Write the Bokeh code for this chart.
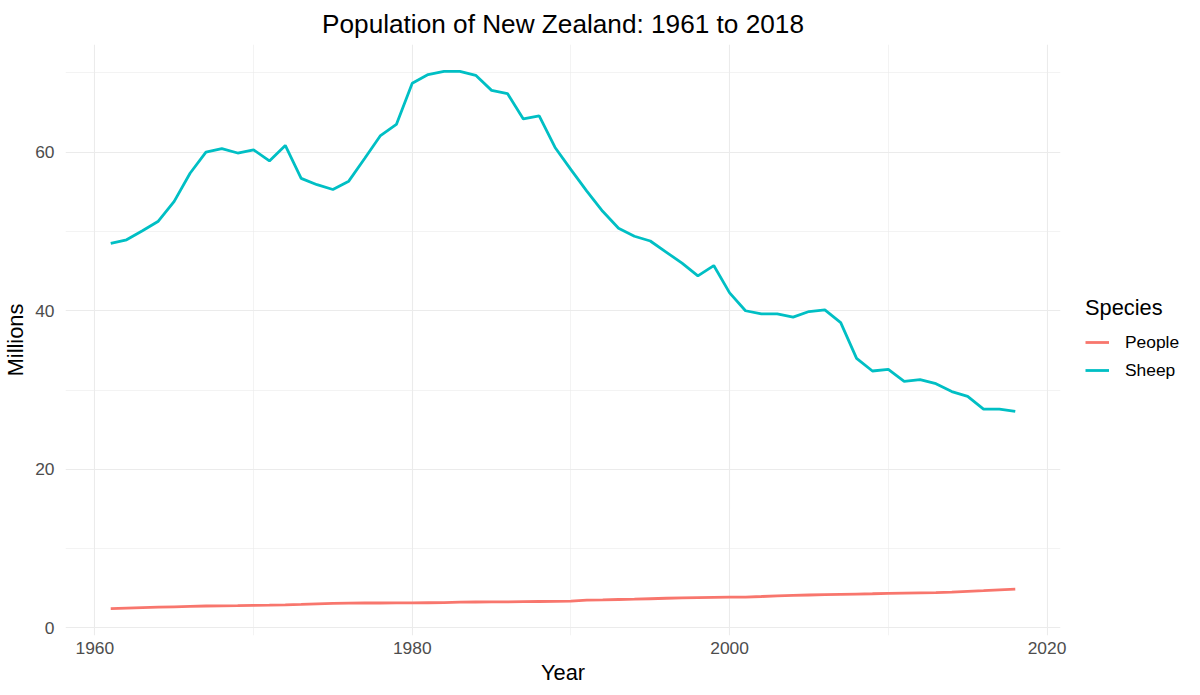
from bokeh.plotting import figure
from bokeh.layouts import row
from bokeh.models import Range1d, FixedTicker, Legend, LegendItem, ColumnDataSource
from bokeh.embed import file_html
from bokeh.resources import INLINE

years = list(range(1961, 2019))

sheep = [48.5, 48.95, 50.1, 51.3, 53.8, 57.35, 60.0, 60.46, 59.9, 60.3,
         58.9, 60.85, 56.7, 55.9, 55.3, 56.35, 59.2, 62.1, 63.5, 68.7,
         69.8, 70.2, 70.2, 69.7, 67.8, 67.4, 64.2, 64.6, 60.6, 57.8,
         55.1, 52.55, 50.4, 49.4, 48.8, 47.4, 46.0, 44.4, 45.7, 42.25,
         40.0, 39.6, 39.6, 39.2, 39.9, 40.1, 38.5, 34.0, 32.4, 32.6,
         31.1, 31.3, 30.8, 29.8, 29.2, 27.6, 27.6, 27.3]

people = [2.42, 2.49, 2.55, 2.60, 2.65, 2.70, 2.75, 2.78, 2.80, 2.83,
          2.86, 2.90, 2.96, 3.03, 3.09, 3.12, 3.13, 3.13, 3.14, 3.14,
          3.16, 3.18, 3.23, 3.26, 3.27, 3.28, 3.30, 3.32, 3.33, 3.36,
          3.50, 3.53, 3.57, 3.61, 3.67, 3.73, 3.78, 3.81, 3.84, 3.86,
          3.88, 3.95, 4.03, 4.09, 4.14, 4.18, 4.22, 4.26, 4.30, 4.35,
          4.38, 4.41, 4.44, 4.51, 4.60, 4.69, 4.79, 4.87]

species = ["People", "Sheep"]
colors = ["#F8766D", "#00BFC4"]

x_ticks = [1960, 1980, 2000, 2020]
x_minor = [1970, 1990, 2010]
y_ticks = [0, 20, 40, 60]
y_minor = [10, 30, 50, 70]

FONT = "Liberation Sans"
BASE = 21.8
TITLE_PX = f"{BASE * 1.2:.1f}px"
LABEL_PX = f"{BASE:.1f}px"
TICK_PX = f"{BASE * 0.8:.1f}px"
LW = 2.8

all_vals = sheep + people
lo, hi = min(all_vals), max(all_vals)
pad_y = (hi - lo) * 0.05
pad_x = (years[-1] - years[0]) * 0.05

TOP, BOTTOM, FH = 44, 52, 591
TOTAL_H = TOP + FH + BOTTOM

p = figure(frame_width=995, frame_height=FH, output_backend="svg", toolbar_location=None,
           x_range=Range1d(years[0] - pad_x, years[-1] + pad_x),
           y_range=Range1d(lo - pad_y, hi + pad_y),
           title="Population of New Zealand: 1961 to 2018",
           min_border_left=55, min_border_right=10, min_border_top=TOP, min_border_bottom=BOTTOM)

p.background_fill_color = "white"
p.border_fill_color = "white"
p.outline_line_color = None

p.title.align = "center"
p.title.text_font = FONT
p.title.text_font_size = TITLE_PX
p.title.text_font_style = "normal"
p.title.text_color = "black"
p.title.standoff = 12

src_people = ColumnDataSource(dict(x=years, y=people))
src_sheep = ColumnDataSource(dict(x=years, y=sheep))
r1 = p.line("x", "y", source=src_people, line_color=colors[0], line_width=LW)
r2 = p.line("x", "y", source=src_sheep, line_color=colors[1], line_width=LW)

for ax in (p.xaxis[0], p.yaxis[0]):
    ax.axis_line_color = None
    ax.major_tick_line_color = None
    ax.minor_tick_line_color = None
    ax.major_label_text_font = FONT
    ax.major_label_text_font_size = TICK_PX
    ax.major_label_text_color = "#4D4D4D"
    ax.axis_label_text_font = FONT
    ax.axis_label_text_font_size = LABEL_PX
    ax.axis_label_text_font_style = "normal"
    ax.axis_label_text_color = "black"

p.xaxis.ticker = FixedTicker(ticks=x_ticks, minor_ticks=x_minor)
p.yaxis.ticker = FixedTicker(ticks=y_ticks, minor_ticks=y_minor)
p.xaxis.axis_label = "Year"
p.yaxis.axis_label = "Millions"
p.xaxis.major_label_standoff = 0
p.xaxis.axis_label_standoff = 3
p.yaxis.major_label_standoff = 5
p.yaxis.axis_label_standoff = 4

p.xgrid.grid_line_color = "#EBEBEB"
p.ygrid.grid_line_color = "#EBEBEB"
p.xgrid.grid_line_width = 1.1
p.ygrid.grid_line_width = 1.1
p.xgrid.minor_grid_line_color = "#EBEBEB"
p.ygrid.minor_grid_line_color = "#EBEBEB"
p.xgrid.minor_grid_line_width = 0.6
p.ygrid.minor_grid_line_width = 0.6

# legend panel as its own small figure (key lines kept outside its visible range)
lg = figure(width=124, height=TOTAL_H, output_backend="svg", toolbar_location=None,
            x_axis_type=None, y_axis_type=None, x_range=Range1d(0, 1), y_range=Range1d(0, 1),
            min_border=0)
lg.outline_line_color = None
lg.xgrid.visible = False
lg.ygrid.visible = False
lg.background_fill_color = "white"
lg.border_fill_color = "white"
d1 = lg.line(x=[5, 6], y=[5, 6], line_color=colors[0], line_width=LW)
d2 = lg.line(x=[5, 6], y=[5, 6], line_color=colors[1], line_width=LW)

legend = Legend(items=[LegendItem(label=species[0], renderers=[d1]),
                       LegendItem(label=species[1], renderers=[d2])],
                title="Species", location=(15, TOTAL_H - 436))
legend.title_text_font = FONT
legend.title_text_font_size = LABEL_PX
legend.title_text_font_style = "normal"
legend.title_text_color = "black"
legend.title_standoff = 7
legend.label_text_font = FONT
legend.label_text_font_size = TICK_PX
legend.label_text_color = "black"
legend.glyph_width = 24
legend.glyph_height = 28
legend.label_height = 28
legend.label_standoff = 16
legend.spacing = 0
legend.padding = 5
legend.margin = 0
legend.border_line_color = None
legend.background_fill_alpha = 0
lg.add_layout(legend, "center")

layout = row(p, lg)
open("out.html", "w").write(file_html(layout, INLINE))
